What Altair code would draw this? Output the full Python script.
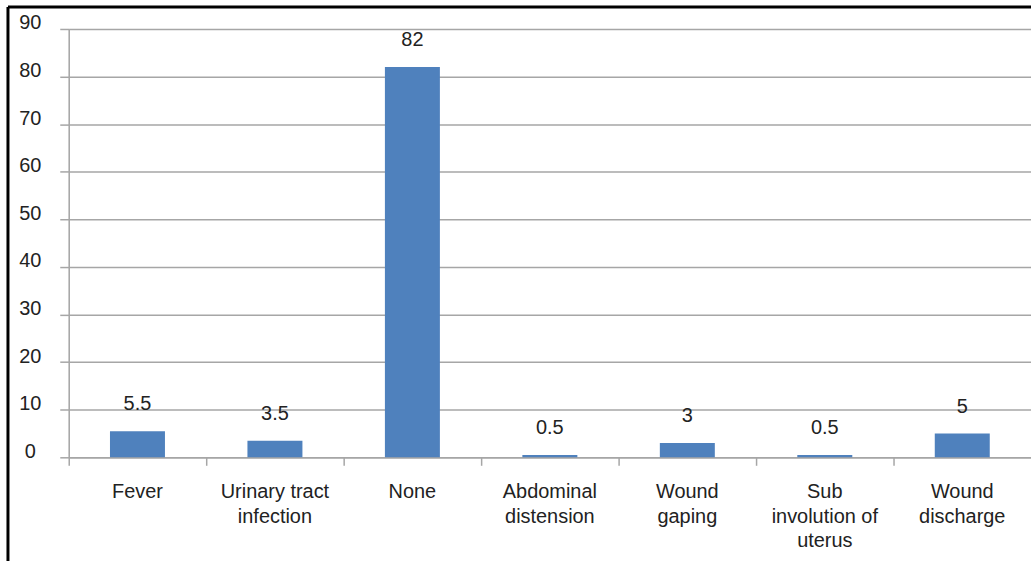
import altair as alt
import pandas as pd

# Post-operative complications (%)
categories = [
    "Fever",
    "Urinary tract\ninfection",
    "None",
    "Abdominal\ndistension",
    "Wound\ngaping",
    "Sub\ninvolution of\nuterus",
    "Wound\ndischarge",
]
values = [5.5, 3.5, 82, 0.5, 3, 0.5, 5]
y_ticks = [0, 10, 20, 30, 40, 50, 60, 70, 80, 90]

df = pd.DataFrame({"complication": categories, "percent": values})

FONT = "Liberation Sans"
TEXT = "#222222"
GRID = "#a6a6a6"
BAR = "#4f81bd"
FS = 20

x_enc = alt.X(
    "complication:N",
    sort=categories,
    scale=alt.Scale(paddingInner=0, paddingOuter=0),
    axis=alt.Axis(
        title=None,
        labelAngle=0,
        bandPosition=0,
        labelExpr="split(datum.label, '\\n')",
        labelLineHeight=25,
        labelPadding=16,
        labelFont=FONT,
        labelFontSize=FS,
        labelColor=TEXT,
        labelBaseline="top",
        domainColor=GRID,
        domainWidth=1.5,
        tickColor=GRID,
        tickSize=8,
        tickWidth=1.5,
        grid=False,
    ),
)

y_enc = alt.Y(
    "percent:Q",
    scale=alt.Scale(domain=[0, 90], nice=False),
    axis=alt.Axis(
        title=None,
        values=y_ticks,
        labelAlign="center",
        labelBaseline="middle",
        labelPadding=30,
        labelOffset=-6,
        labelFont=FONT,
        labelFontSize=FS,
        labelColor=TEXT,
        domainColor=GRID,
        domainWidth=1.5,
        tickColor=GRID,
        tickSize=9,
        tickWidth=1.5,
        grid=True,
        gridColor=GRID,
        gridWidth=1.5,
    ),
)

bars = alt.Chart(df).mark_bar(
    color=BAR, width=alt.RelativeBandSize(0.4)
).encode(x=x_enc, y=y_enc)

labels = alt.Chart(df).mark_text(
    font=FONT, fontSize=FS, color=TEXT, baseline="middle", dy=-27
).encode(
    x=alt.X("complication:N", sort=categories),
    y="percent:Q",
    text=alt.Text("percent:Q", format=".1~f"),
)

# Black frame on the left and top edges
frame_left = alt.Chart().mark_rule(color="black", strokeWidth=3).encode(
    x=alt.value(-61), y=alt.value(-22), y2=alt.value(540)
)
frame_top = alt.Chart().mark_rule(color="black", strokeWidth=3).encode(
    x=alt.value(-61), x2=alt.value(1000), y=alt.value(-22)
)

chart = (
    alt.layer(bars, labels, frame_left, frame_top)
    .properties(
        width=966,
        height=430,
        autosize=alt.AutoSizeParams(type="none"),
        padding={"left": 69, "top": 28, "right": 0, "bottom": 103},
    )
    .configure_view(stroke=None)
    .configure(background="white")
)

chart.save("out.html", embed_options={"renderer": "svg", "actions": False})
